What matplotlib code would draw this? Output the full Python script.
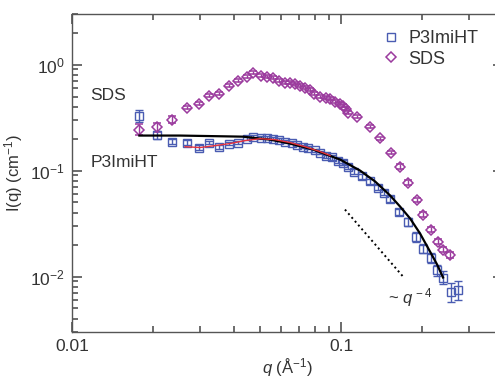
import matplotlib
matplotlib.use("Agg")
import matplotlib.pyplot as plt
from matplotlib.lines import Line2D
from matplotlib.ticker import NullFormatter, LogLocator
import numpy as np

plt.rcParams['font.family'] = ['Liberation Sans', 'DejaVu Sans']
plt.rcParams['mathtext.fontset'] = 'custom'
plt.rcParams['mathtext.rm'] = 'Liberation Sans'
plt.rcParams['mathtext.it'] = 'Liberation Sans:italic'
plt.rcParams['mathtext.bf'] = 'Liberation Sans:bold'

# P3ImiHT scattering
q_p3 = [0.0178, 0.0207, 0.0235, 0.0268, 0.0297, 0.0323, 0.0352, 0.0383, 0.0414, 0.0447,
        0.0471, 0.0502, 0.0531, 0.0559, 0.0588, 0.0619, 0.0657, 0.0686, 0.0722, 0.0754,
        0.0801, 0.0836, 0.0880, 0.0926, 0.0975, 0.1017, 0.1062, 0.1118, 0.1197, 0.1282,
        0.1373, 0.1445, 0.1521, 0.1643, 0.1774, 0.1900, 0.2017, 0.2161, 0.2275, 0.2394,
        0.2564, 0.2723]
i_p3 = [0.330, 0.219, 0.188, 0.184, 0.165, 0.184, 0.168, 0.180, 0.184, 0.200,
        0.209, 0.205, 0.205, 0.200, 0.196, 0.188, 0.184, 0.176, 0.168, 0.165,
        0.155, 0.148, 0.136, 0.133, 0.124, 0.119, 0.109, 0.098, 0.088, 0.079,
        0.069, 0.062, 0.054, 0.041, 0.033, 0.0238, 0.0184, 0.0151, 0.0116, 0.0098,
        0.0072, 0.0075]
rel_err_p3 = [0.13, 0.09, 0.06, 0.05, 0.05, 0.04, 0.04, 0.04, 0.03, 0.03,
              0.03, 0.03, 0.03, 0.03, 0.03, 0.03, 0.03, 0.03, 0.03, 0.03,
              0.04, 0.04, 0.04, 0.05, 0.05, 0.05, 0.05, 0.05, 0.05, 0.05,
              0.05, 0.06, 0.06, 0.07, 0.09, 0.10, 0.10, 0.11, 0.12, 0.14,
              0.20, 0.20]

# SDS scattering
q_sds = [0.0178, 0.0207, 0.0235, 0.0268, 0.0297, 0.0323, 0.0352, 0.0383, 0.0414, 0.0447,
         0.0471, 0.0504, 0.0531, 0.0559, 0.0588, 0.0619, 0.0646, 0.0675, 0.0704, 0.0735,
         0.0767, 0.0794, 0.0836, 0.0880, 0.0910, 0.0950, 0.0992, 0.1017, 0.1044, 0.1062,
         0.1147, 0.1282, 0.1396, 0.1534, 0.1657, 0.1774, 0.1916, 0.2017, 0.2161, 0.2294,
         0.2394, 0.2542]
i_sds = [0.244, 0.255, 0.303, 0.393, 0.429, 0.510, 0.532, 0.634, 0.706, 0.771,
         0.841, 0.788, 0.771, 0.754, 0.706, 0.676, 0.676, 0.662, 0.634, 0.607,
         0.581, 0.532, 0.499, 0.489, 0.478, 0.448, 0.429, 0.410, 0.384, 0.353,
         0.323, 0.260, 0.201, 0.148, 0.109, 0.077, 0.053, 0.0384, 0.0278, 0.0214,
         0.0180, 0.0161]
rel_err_sds = [0.12, 0.10, 0.07, 0.04, 0.04, 0.03, 0.03, 0.03, 0.03, 0.03,
               0.03, 0.03, 0.03, 0.03, 0.03, 0.03, 0.03, 0.03, 0.03, 0.03,
               0.03, 0.03, 0.03, 0.03, 0.03, 0.03, 0.03, 0.03, 0.03, 0.03,
               0.04, 0.04, 0.04, 0.04, 0.05, 0.05, 0.05, 0.05, 0.05, 0.06,
               0.06, 0.06]

# model fit (black) and low-q fit (red)
q_fit = [0.0178, 0.0252, 0.0432, 0.0545, 0.0646, 0.0787, 0.0992, 0.1177, 0.1338, 0.1521,
         0.1657, 0.1805, 0.1966, 0.2142, 0.2275, 0.2394]
i_fit = [0.214, 0.214, 0.209, 0.196, 0.180, 0.158, 0.127, 0.100, 0.079, 0.0583,
         0.0458, 0.0354, 0.0255, 0.0172, 0.0130, 0.0098]
q_red = [0.0263, 0.0299, 0.0340, 0.0387, 0.0440, 0.0500, 0.0568, 0.0646, 0.0735, 0.0836, 0.0910]
i_red = [0.168, 0.165, 0.172, 0.180, 0.192, 0.200, 0.196, 0.184, 0.168, 0.151, 0.139]

# q^-4 guide
q_guide = [0.1034, 0.1700]
i_guide = [0.0429, 0.0100]

blue = '#4a5cb2'
purple = '#9b3b9e'
axis_grey = '#444444'
text_grey = '#333333'

fig = plt.figure(figsize=(4.95, 3.81), dpi=100)
ax = fig.add_axes([0.1455, 0.1286, 0.8707, 0.8346])

ax.errorbar(q_p3, i_p3, yerr=np.array(rel_err_p3) * np.array(i_p3), fmt='s', ms=5.5,
            mfc='none', mec=blue, mew=1.0, ecolor=blue, elinewidth=1.0, capsize=2.8,
            zorder=3)
ax.errorbar(q_sds, i_sds, yerr=np.array(rel_err_sds) * np.array(i_sds), fmt='D', ms=5.5,
            mfc='none', mec=purple, mew=1.1, ecolor=purple, elinewidth=1.0, capsize=2.8,
            zorder=3)
ax.plot(q_fit, i_fit, color='black', lw=1.6, zorder=4)
ax.plot(q_red, i_red, color='#e8333d', lw=1.0, zorder=4)
ax.plot(q_guide, i_guide, color='black', lw=1.4, ls=(0, (1, 1.6)), zorder=4)

ax.set_xscale('log')
ax.set_yscale('log')
ax.set_xlim(0.01, 0.4)
ax.set_ylim(0.003, 3.0)

ax.set_xticks([0.01, 0.1], ['0.01', '0.1'])
ax.xaxis.set_minor_locator(LogLocator(base=10, subs=np.arange(2, 10)))
ax.xaxis.set_minor_formatter(NullFormatter())
ax.yaxis.set_minor_locator(LogLocator(base=10, subs=np.arange(2, 10)))
ax.yaxis.set_minor_formatter(NullFormatter())

for s in ax.spines.values():
    s.set_color('#555555')
    s.set_linewidth(1.0)
ax.tick_params(axis='both', which='both', direction='in', bottom=True, top=True,
               left=True, right=True, color=axis_grey, labelcolor=text_grey,
               labelsize=12.5, width=1.1, zorder=5)
ax.tick_params(which='major', length=7.5, pad=5)
ax.tick_params(which='minor', length=4)

ax.set_xlabel(r'$q$ (Å$^{-1}$)', fontsize=12, color=text_grey, labelpad=2)
ax.set_ylabel(r'I(q) (cm$^{-1}$)', fontsize=12, color=text_grey, labelpad=4)

ax.text(0.0117, 0.51, 'SDS', fontsize=12.5, color=text_grey, va='center', ha='left')
ax.text(0.0117, 0.119, 'P3ImiHT', fontsize=12.5, color=text_grey, va='center', ha='left')
ax.text(0.149, 0.0063, r'~ $q^{\,-4}$', fontsize=12, color=text_grey, va='center', ha='left')

handles = [Line2D([], [], ls='none', marker='s', ms=5.5, mfc='none', mec=blue, mew=1.0),
           Line2D([], [], ls='none', marker='D', ms=5.5, mfc='none', mec=purple, mew=1.1)]
ax.legend(handles, ['P3ImiHT', 'SDS'], loc='upper left', bbox_to_anchor=(0.772, 0.921),
          bbox_transform=fig.transFigure, frameon=False, fontsize=13, numpoints=1,
          handlelength=1.0, handletextpad=0.45, borderpad=0, borderaxespad=0,
          labelspacing=0.2, labelcolor=text_grey)

fig.savefig('out.png', dpi=100)
